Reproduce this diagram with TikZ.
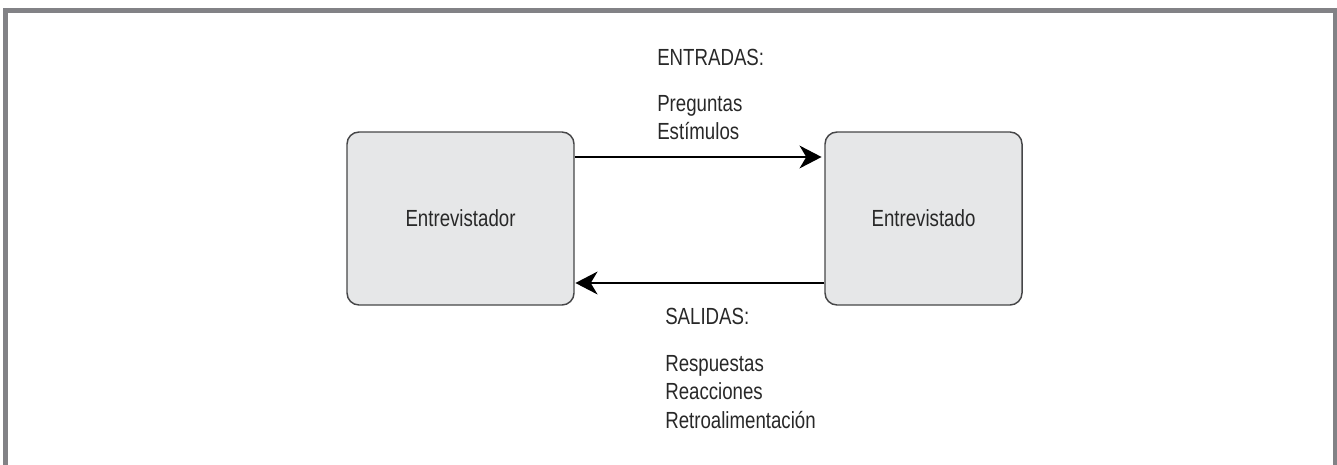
\documentclass[tikz,border=0pt]{standalone}
\usepackage{fontspec}
\setmainfont{Liberation Sans}[FakeStretch=0.8]
\usetikzlibrary{arrows.meta}
\definecolor{marco}{RGB}{130,130,134}
\definecolor{caja}{RGB}{230,231,232}
\definecolor{borde}{RGB}{70,70,72}
\definecolor{texto}{RGB}{40,40,40}
\begin{document}
\begin{tikzpicture}[
 x=.75pt,y=-.75pt,
 frame/.style={draw=marco,line width=3.75pt},
 party/.style={draw=borde,fill=caja,line width=1.1pt,rounded corners=9pt,
  minimum height=129.75pt,inner sep=0pt,text=texto},
 flow/.style={line width=2pt,-{Stealth[length=16.5pt,width=17pt,inset=5pt]}},
 label/.style={anchor=base west,inner sep=0pt,text=texto},
 every node/.style={font=\fontsize{17.5}{21.4}\selectfont}]
 \useasboundingbox (0,0) rectangle (1337,464);
 % Open frame round the figure.
 \draw[frame] (5.5,470)--(5.5,10.5)--(1335,10.5)--(1335,470);
 % The two parties of the interview.
 \node[party,minimum width=170.25pt] (izq) at (460.5,218.5) {Entrevistador};
 \node[party,minimum width=147.75pt] (der) at (923.5,218.5) {Entrevistado};
 \coordinate (alto) at (0,157); \coordinate (bajo) at (0,283);
 \draw[flow,shorten >=2pt] (izq.east |- alto)--(der.west |- alto);
 \draw[flow,shorten >=.5pt] (der.west |- bajo)--(izq.east |- bajo);
 % Inputs above, outputs below.
 \node[label] (ent) at (657,65) {ENTRADAS:};
 \node[label] (preg) at (657,111) {Preguntas};
 \node[label] (estim) at (657,139) {Estímulos};
 \node[label] (sal) at (665,324) {SALIDAS:};
 \node[label] (resp) at (665,371) {Respuestas};
 \node[label] (reac) at (665,399.5) {Reacciones};
 \node[label] (retro) at (665,428) {Retroalimentación};
\end{tikzpicture}
\end{document}
